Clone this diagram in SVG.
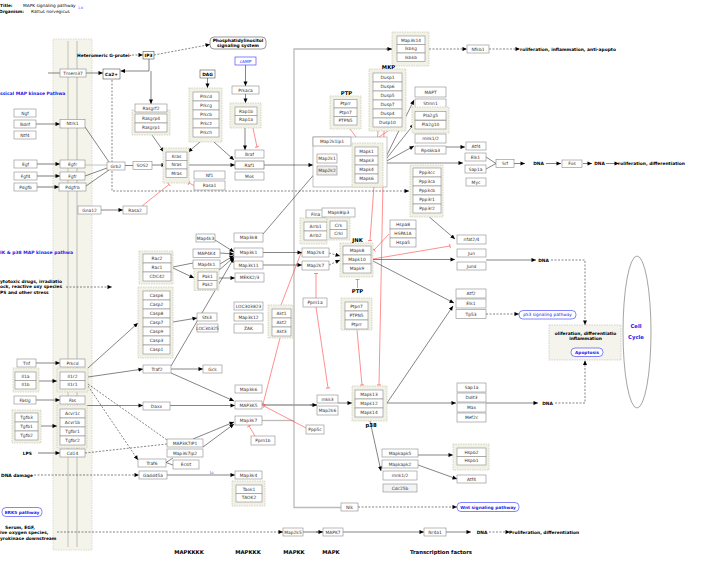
<svg xmlns="http://www.w3.org/2000/svg" width="714" height="563" viewBox="0 0 714 563">
<style>
text{font-family:"DejaVu Sans","Liberation Sans",sans-serif}
.n{fill:#fff;stroke:#8a8a8a;stroke-width:.6}
.g{fill:#f1f1e6;stroke:#c5c5b5;stroke-width:.7;stroke-dasharray:1.5 1}
.t{font-size:4.4px;fill:#333;text-anchor:middle}
.tb{font-size:4.4px;fill:#000;font-weight:bold;text-anchor:middle}
.lb{font-size:5.3px;fill:#000;font-weight:bold;text-anchor:middle}
.bl{fill:#fff;stroke:#33f;stroke-width:.6}
.blt{font-size:4.3px;fill:#22e;text-anchor:middle}
.e{fill:none;stroke:#333;stroke-width:.6}
.d{stroke-dasharray:2 1.5}
.r{fill:none;stroke:#f44;stroke-width:.6}
.gl{fill:none;stroke:#bbb;stroke-width:1.3}
.ga{fill:none;stroke:#999;stroke-width:1.3}
</style>
<defs>
<marker id="a" viewBox="0 0 10 10" refX="10" refY="5" markerWidth="5" markerHeight="4.5" orient="auto" markerUnits="userSpaceOnUse"><path d="M0,0.5L10,5L0,9.5z" fill="#000"/></marker>
<marker id="t" viewBox="0 0 4 10" refX="2" refY="5" markerWidth="1.6" markerHeight="9" orient="auto" markerUnits="userSpaceOnUse"><path d="M2,0V10" stroke="#f44" stroke-width="1.6"/></marker>
</defs>
<rect width="714" height="563" fill="#fff"/>

<g id="header" font-size="4.3">
<text x="0" y="7" font-weight="bold">Title:</text>
<text x="23" y="7">MAPK signaling pathway</text>
<text x="78" y="8.5" fill="#33f" font-size="3.2">1.0</text>
<text x="-1" y="13" font-weight="bold">Organism:</text>
<text x="31" y="13">Rattus norvegicus</text>
</g>

<g id="membrane">
<rect x="53" y="39" width="39" height="511" fill="#f4f4eb" stroke="#cfcfbf" stroke-width=".7" stroke-dasharray="1.5 1"/>
<line x1="68" y1="41" x2="68" y2="547" stroke="#d0d0c8" stroke-width="1.4"/>
<line x1="77" y1="41" x2="77" y2="547" stroke="#999" stroke-width=".6"/>
</g>

<g id="connectors">
<line class="e d" x1="132" y1="55" x2="143" y2="55" marker-end="url(#a)"/>
<line class="e d" x1="154" y1="55" x2="210" y2="44.5" marker-end="url(#a)"/>
<path class="e" d="M149,59V71H120.5" marker-end="url(#a)"/>
<path class="e" d="M151,71V104" marker-end="url(#a)"/>
<line class="e" x1="48" y1="73" x2="60" y2="73"/>
<line class="e" x1="86" y1="73" x2="103" y2="73" marker-end="url(#a)"/>
<path class="e d" d="M112,80V191H409" marker-end="url(#a)"/>
<line class="e" x1="207.5" y1="78" x2="207.5" y2="88" marker-end="url(#a)"/>
<line class="e" x1="152" y1="135" x2="164" y2="152" marker-end="url(#a)"/>
<line class="e" x1="200" y1="142" x2="188" y2="152" marker-end="url(#a)"/>
<line class="e" x1="214" y1="142" x2="234" y2="160" marker-end="url(#a)"/>
<line class="e" x1="245.5" y1="65" x2="245.5" y2="86" marker-end="url(#a)"/>
<line class="e" x1="245.5" y1="94" x2="245.5" y2="103" marker-end="url(#a)"/>
<line class="e" x1="245" y1="128" x2="245" y2="150" marker-end="url(#a)"/>
<line class="r" x1="253" y1="128" x2="257" y2="147" marker-end="url(#t)"/>
<line class="e" x1="189" y1="165" x2="235" y2="165" marker-end="url(#a)"/>
<line class="e" x1="36" y1="124" x2="60" y2="124" marker-end="url(#a)"/>
<line class="ga" x1="37" y1="164" x2="60" y2="164" marker-end="url(#a)"/>
<line class="ga" x1="37" y1="176" x2="60" y2="176" marker-end="url(#a)"/>
<line class="ga" x1="37" y1="187" x2="59" y2="187" marker-end="url(#a)"/>
<line class="e" x1="85" y1="127" x2="109" y2="162"/>
<line class="gl" x1="85" y1="165" x2="107" y2="165" style="stroke-width:.9"/>
<line class="e" x1="85" y1="176" x2="107" y2="168"/>
<line class="e" x1="86" y1="186" x2="109" y2="170"/>
<line class="e" x1="125" y1="165.5" x2="133" y2="165.5"/>
<line class="e" x1="152" y1="165" x2="166" y2="165" marker-end="url(#a)"/>
<line class="r" x1="194" y1="185.5" x2="189" y2="183" marker-end="url(#t)"/>
<line class="r" x1="142" y1="206" x2="169" y2="184.5" marker-end="url(#t)"/>
<line class="e" x1="101" y1="210" x2="123" y2="210" marker-end="url(#a)"/>
<path class="gl" d="M392,49H294V507.5H341"/>
<line class="e" x1="386" y1="49" x2="392" y2="49" marker-end="url(#a)"/>
<line class="gl" x1="262" y1="420.5" x2="294" y2="420.5"/>
<line class="e d" x1="429" y1="49" x2="467" y2="49" marker-end="url(#a)"/>
<line class="e d" x1="489" y1="49" x2="520" y2="49" marker-end="url(#a)"/>
<line class="e" x1="264" y1="165" x2="313" y2="165" marker-end="url(#a)"/>
<line class="e" x1="263" y1="234" x2="317" y2="171" marker-end="url(#a)"/>
<line class="e" x1="339" y1="165" x2="352" y2="165" marker-end="url(#a)"/>
<line class="r" x1="350" y1="129" x2="359" y2="141" marker-end="url(#t)"/>
<line class="r" x1="388" y1="131" x2="370" y2="143" marker-end="url(#t)"/>
<line class="r" x1="378" y1="131" x2="370" y2="240.5" marker-end="url(#t)"/>
<line class="r" x1="384" y1="131" x2="379" y2="385" marker-end="url(#t)"/>
<line class="e" x1="383" y1="163" x2="414" y2="100" marker-end="url(#a)"/>
<line class="e" x1="383" y1="163" x2="414" y2="124" marker-end="url(#a)"/>
<line class="e" x1="383" y1="163" x2="414" y2="146" marker-end="url(#a)"/>
<line class="e" x1="383" y1="163" x2="463" y2="163" marker-end="url(#a)"/>
<line class="e" x1="446" y1="147" x2="465" y2="147" marker-end="url(#a)"/>
<path class="e" d="M486,157L496,163.5L486,169"/>
<line class="e" x1="514" y1="163.5" x2="525" y2="163.5" marker-end="url(#a)"/>
<line class="e" x1="546" y1="163.5" x2="561" y2="163.5" marker-end="url(#a)"/>
<line class="e" x1="583" y1="163.5" x2="592" y2="163.5" marker-end="url(#a)"/>
<line class="e" x1="606" y1="163.5" x2="619" y2="163.5" marker-end="url(#a)"/>
<line class="e" x1="427" y1="215" x2="455" y2="239" marker-end="url(#a)"/>
<line class="r" x1="389" y1="234" x2="374" y2="250" marker-end="url(#t)"/>
<line class="r" x1="373" y1="259" x2="450" y2="246" marker-end="url(#t)"/>
<line class="e" x1="373" y1="259.5" x2="455" y2="259.5" marker-end="url(#a)"/>
<line class="e" x1="373" y1="261" x2="454" y2="303" marker-end="url(#a)"/>
<line class="e" x1="486" y1="260" x2="536" y2="260" marker-end="url(#a)"/>
<path class="e d" d="M551,260H585V325" marker-end="url(#a)"/>
<path class="e d" d="M555,403H585V360.5" marker-end="url(#a)"/>
<line class="e d" x1="486" y1="314" x2="519" y2="314" marker-end="url(#a)"/>
<line class="e" x1="387" y1="403" x2="453" y2="306" marker-end="url(#a)"/>
<line class="e" x1="387" y1="403" x2="456" y2="403" marker-end="url(#a)"/>
<line class="e" x1="486" y1="403" x2="538" y2="403" marker-end="url(#a)"/>
<line class="e" x1="338" y1="403" x2="352" y2="403" marker-end="url(#a)"/>
<line class="ga" x1="262" y1="405" x2="317" y2="405"/>
<line class="e" x1="310" y1="405" x2="317" y2="405" marker-end="url(#a)"/>
<path class="r" d="M316,298V273.5" marker-end="url(#t)"/>
<path class="r" d="M316,307L328,388" marker-end="url(#t)"/>
<line class="r" x1="357.5" y1="288" x2="357.5" y2="279.5" marker-end="url(#t)"/>
<line class="r" x1="357" y1="330" x2="362" y2="385" marker-end="url(#t)"/>
<line class="r" x1="281" y1="305" x2="301" y2="253" marker-end="url(#t)"/>
<line class="r" x1="280" y1="338" x2="263" y2="404" marker-end="url(#t)"/>
<line class="r" x1="306" y1="428" x2="264" y2="406" marker-end="url(#t)"/>
<line class="r" x1="255" y1="436" x2="249" y2="426" marker-end="url(#t)"/>
<line class="e" x1="263" y1="252.5" x2="302" y2="252.5" marker-end="url(#a)"/>
<line class="e" x1="263" y1="265" x2="302" y2="265" marker-end="url(#a)"/>
<line class="e d" x1="329" y1="253" x2="340" y2="256" marker-end="url(#a)"/>
<line class="e d" x1="329" y1="265" x2="340" y2="260" marker-end="url(#a)"/>
<line class="e" x1="215" y1="240" x2="234" y2="252" marker-end="url(#a)"/>
<line class="e" x1="220" y1="253" x2="234" y2="254" marker-end="url(#a)"/>
<line class="e" x1="220" y1="264" x2="234" y2="255.5" marker-end="url(#a)"/>
<line class="e" x1="217" y1="272" x2="234" y2="257" marker-end="url(#a)"/>
<line class="e" x1="219" y1="278" x2="235" y2="278" marker-end="url(#a)"/>
<line class="e" x1="171" y1="366" x2="234" y2="258" marker-end="url(#a)"/>
<line class="e" x1="173" y1="267" x2="193" y2="263"/>
<line class="e" x1="173" y1="268" x2="194" y2="278" marker-end="url(#a)"/>
<line class="e" x1="173" y1="322" x2="197" y2="318" marker-end="url(#a)"/>
<line class="e" x1="88" y1="368" x2="138" y2="323" marker-end="url(#a)"/>
<line class="e" x1="88" y1="377" x2="143" y2="369" marker-end="url(#a)"/>
<line class="e" x1="171" y1="369" x2="203" y2="369" marker-end="url(#a)"/>
<line class="e" x1="171" y1="373" x2="234" y2="401" marker-end="url(#a)"/>
<line class="e" x1="87" y1="405.5" x2="143" y2="405.5" marker-end="url(#a)"/>
<line class="e" x1="170" y1="405.5" x2="235" y2="405.5" marker-end="url(#a)"/>
<line class="e d" x1="88" y1="386" x2="138" y2="460" marker-end="url(#a)"/>
<line class="e d" x1="88" y1="384" x2="167" y2="440"/>
<line class="e d" x1="85" y1="453" x2="167" y2="444"/>
<path class="e" d="M173,458L166,462.5L173,465"/>
<line class="e" x1="193" y1="439" x2="234" y2="422" marker-end="url(#a)"/>
<line class="e" x1="203" y1="447" x2="234" y2="424" marker-end="url(#a)"/>
<line class="e" x1="167" y1="475" x2="235" y2="475" marker-end="url(#a)"/>
<line class="e d" x1="34" y1="475" x2="139" y2="475" marker-end="url(#a)"/>
<line class="e" x1="36" y1="363" x2="60" y2="363" marker-end="url(#a)"/>
<line class="e" x1="39" y1="381" x2="57" y2="381" marker-end="url(#a)"/>
<line class="e" x1="36" y1="400" x2="60" y2="400" marker-end="url(#a)"/>
<line class="e" x1="41" y1="426" x2="57" y2="426" marker-end="url(#a)"/>
<line class="ga" x1="38" y1="453" x2="60" y2="453" marker-end="url(#a)"/>
<line class="e d" x1="66" y1="287" x2="112" y2="287" marker-end="url(#a)"/>
<line class="e d" x1="57" y1="532" x2="283" y2="532" marker-end="url(#a)"/>
<line class="ga" x1="303" y1="532" x2="323" y2="532"/>
<line class="e" x1="316" y1="532" x2="323" y2="532" marker-end="url(#a)"/>
<line class="e" x1="343" y1="532" x2="424" y2="532" marker-end="url(#a)"/>
<line class="e" x1="446" y1="532" x2="471" y2="532" marker-end="url(#a)"/>
<line class="e d" x1="489" y1="532" x2="510" y2="532" marker-end="url(#a)"/>
<line class="e d" x1="358" y1="507" x2="457" y2="507" marker-end="url(#a)"/>
<line class="e" x1="418" y1="455" x2="453" y2="455" marker-end="url(#a)"/>
<line class="e" x1="418" y1="465" x2="457" y2="479" marker-end="url(#a)"/>
<line class="e" x1="370" y1="421" x2="381" y2="471" marker-end="url(#a)"/>
</g>

<g id="nodes">
<g id="n_Tmem37"><rect class="n" x="60" y="69" width="26" height="8"/><text class="t" x="73" y="74.5">Tmem37</text></g>
<g id="n_Ca"><rect class="n" x="103" y="69" width="17" height="10" style="stroke:#555"/><text class="tb" x="111.5" y="75.5">Ca2+</text></g>
<g id="n_IP3"><rect class="n" x="143" y="51.5" width="11" height="7.5" style="stroke:#555"/><text class="tb" x="148.5" y="56.8">IP3</text></g>
<g id="n_PI"><rect class="n" x="210" y="37" width="56" height="12" rx="4" style="stroke:#555"/><text class="tb" x="238" y="42.3">Phosphatidylinositol</text><text class="tb" x="238" y="47.3">signaling system</text></g>
<g id="n_cAMP"><rect class="bl" x="235" y="57" width="21" height="8"/><text class="blt" x="245.5" y="62.5">cAMP</text></g>
<g id="n_Prkaca"><rect class="n" x="232" y="86" width="27" height="8"/><text class="t" x="245.5" y="91.5">Prkaca</text></g>
<g id="grp_Rap"><rect class="g" x="230" y="103" width="31" height="25"/>
<g id="n_Rap1b"><rect class="n" x="235" y="107" width="22" height="8.5"/><text class="t" x="246" y="112.8">Rap1b</text></g>
<g id="n_Rap1a"><rect class="n" x="235" y="115.5" width="22" height="8.5"/><text class="t" x="246" y="121.3">Rap1a</text></g></g>
<g id="n_Braf"><rect class="n" x="235" y="150" width="29" height="8"/><text class="t" x="249.5" y="155.5">Braf</text></g>
<g id="n_Raf1"><rect class="n" x="235" y="161" width="29" height="8" style="stroke:#666"/><text class="t" x="249.5" y="166.5">Raf1</text></g>
<g id="n_Mos"><rect class="n" x="235" y="172" width="29" height="8"/><text class="t" x="249.5" y="177.5">Mos</text></g>
<g id="n_DAG"><rect class="n" x="200" y="70" width="15" height="8" style="stroke:#555"/><text class="tb" x="207.5" y="75.5">DAG</text></g>
<g id="grp_Prkc"><rect class="g" x="189" y="88" width="33" height="54"/>
<g id="n_Prkcd"><rect class="n" x="193" y="92" width="26" height="9"/><text class="t" x="206" y="98">Prkcd</text></g>
<g id="n_Prkcg"><rect class="n" x="193" y="101" width="26" height="9"/><text class="t" x="206" y="107">Prkcg</text></g>
<g id="n_Prkcb"><rect class="n" x="193" y="110" width="26" height="9"/><text class="t" x="206" y="116">Prkcb</text></g>
<g id="n_Prkcz"><rect class="n" x="193" y="119" width="26" height="9"/><text class="t" x="206" y="125">Prkcz</text></g>
<g id="n_Prkch"><rect class="n" x="193" y="128" width="26" height="9"/><text class="t" x="206" y="134">Prkch</text></g></g>
<g id="grp_Rasgrp"><rect class="g" x="132" y="110" width="38" height="25"/>
<g id="n_Rasgrp4"><rect class="n" x="135" y="114" width="32" height="9"/><text class="t" x="151" y="120">Rasgrp4</text></g>
<g id="n_Rasgrp1"><rect class="n" x="135" y="123" width="32" height="9"/><text class="t" x="151" y="129">Rasgrp1</text></g></g>
<g id="n_Rasgrf2"><rect class="n" x="135" y="104" width="32" height="8"/><text class="t" x="151" y="109.5">Rasgrf2</text></g>
<g id="n_Ngf"><rect class="n" x="14" y="109" width="22" height="8"/><text class="t" x="25" y="114.5">Ngf</text></g>
<g id="n_Bdnf"><rect class="n" x="14" y="120" width="22" height="8"/><text class="t" x="25" y="125.5">Bdnf</text></g>
<g id="n_Ntf4"><rect class="n" x="14" y="131" width="22" height="8"/><text class="t" x="25" y="136.5">Ntf4</text></g>
<g id="n_Ntrk1"><rect class="n" x="60" y="119.5" width="25" height="8.5"/><text class="t" x="72.5" y="125.3">Ntrk1</text></g>
<g id="n_Egf"><rect class="n" x="14" y="160" width="23" height="8"/><text class="t" x="25.5" y="165.5">Egf</text></g>
<g id="n_Fgf4"><rect class="n" x="14" y="172" width="23" height="8"/><text class="t" x="25.5" y="177.5">Fgf4</text></g>
<g id="n_Pdgfb"><rect class="n" x="14" y="183" width="23" height="8"/><text class="t" x="25.5" y="188.5">Pdgfb</text></g>
<g id="n_Egfr"><rect class="n" x="60" y="160" width="25" height="8"/><text class="t" x="72.5" y="165.5">Egfr</text></g>
<g id="n_Fgfr"><rect class="n" x="60" y="172" width="25" height="8"/><text class="t" x="72.5" y="177.5">Fgfr</text></g>
<g id="n_Pdgfrb"><rect class="n" x="59" y="183" width="27" height="8"/><text class="t" x="72.5" y="188.5">Pdgfrb</text></g>
<g id="n_Grb2"><rect class="n" x="107" y="162" width="18" height="8"/><text class="t" x="116" y="167.5">Grb2</text></g>
<g id="n_SOS2"><rect class="n" x="133" y="161.5" width="19" height="8"/><text class="t" x="142.5" y="167">SOS2</text></g>
<g id="grp_Ras"><rect class="g" x="163" y="148" width="26" height="35"/>
<g id="n_Kras"><rect class="n" x="166" y="152" width="21" height="8.5"/><text class="t" x="176.5" y="157.8">Kras</text></g>
<g id="n_Nras"><rect class="n" x="166" y="160.5" width="21" height="8.5"/><text class="t" x="176.5" y="166.3">Nras</text></g>
<g id="n_Mras"><rect class="n" x="166" y="169" width="21" height="8.5"/><text class="t" x="176.5" y="174.8">Mras</text></g></g>
<g id="n_Nf1"><rect class="n" x="194" y="171" width="31" height="8"/><text class="t" x="209.5" y="176.5">Nf1</text></g>
<g id="n_Rasa1"><rect class="n" x="194" y="181" width="31" height="9"/><text class="t" x="209.5" y="187">Rasa1</text></g>
<g id="n_Gna12"><rect class="n" x="78" y="206" width="23" height="8"/><text class="t" x="89.5" y="211.5">Gna12</text></g>
<g id="n_Rasa2"><rect class="n" x="123" y="206" width="24" height="8"/><text class="t" x="135" y="211.5">Rasa2</text></g>

<g id="grp_Map3k14"><rect class="g" x="392" y="32" width="37" height="34"/>
<g id="n_Map3k14"><rect class="n" x="397" y="36" width="28" height="8.5"/><text class="t" x="411" y="41.8">Map3k14</text></g>
<g id="n_Ikbkg"><rect class="n" x="397" y="44.5" width="28" height="8.5"/><text class="t" x="411" y="50.3">Ikbkg</text></g>
<g id="n_Ikbkb"><rect class="n" x="397" y="53" width="28" height="8.5"/><text class="t" x="411" y="58.8">Ikbkb</text></g></g>
<g id="n_Nfkb1"><rect class="n" x="467" y="45" width="22" height="8"/><text class="t" x="478" y="50.5">Nfkb1</text></g>
<g id="grp_Dusp"><rect class="g" x="369" y="69" width="37" height="62"/>
<g id="n_Dusp1"><rect class="n" x="373" y="73" width="29" height="9"/><text class="t" x="387.5" y="79">Dusp1</text></g>
<g id="n_Dusp6"><rect class="n" x="373" y="82" width="29" height="9"/><text class="t" x="387.5" y="88">Dusp6</text></g>
<g id="n_Dusp5"><rect class="n" x="373" y="91" width="29" height="9"/><text class="t" x="387.5" y="97">Dusp5</text></g>
<g id="n_Dusp7"><rect class="n" x="373" y="100" width="29" height="9"/><text class="t" x="387.5" y="106">Dusp7</text></g>
<g id="n_Dusp4"><rect class="n" x="373" y="109" width="29" height="9"/><text class="t" x="387.5" y="115">Dusp4</text></g>
<g id="n_Dusp10"><rect class="n" x="373" y="118" width="29" height="9"/><text class="t" x="387.5" y="124">Dusp10</text></g></g>
<g id="grp_PTP1"><rect class="g" x="330" y="96" width="31" height="33"/>
<g id="n_Ptprr1"><rect class="n" x="334" y="99.5" width="23" height="8.5"/><text class="t" x="345.5" y="105.3">Ptprr</text></g>
<g id="n_Ptpn7_1"><rect class="n" x="334" y="108" width="23" height="8.5"/><text class="t" x="345.5" y="113.8">Ptpn7</text></g>
<g id="n_PTPN5_1"><rect class="n" x="334" y="116.5" width="23" height="8.5"/><text class="t" x="345.5" y="122.3">PTPN5</text></g></g>
<g id="grp_Map2k"><rect x="313" y="137" width="74" height="50" fill="#fff" stroke="#999" stroke-width=".6"/>
<g id="n_Map2k1ip1"><rect class="n" x="313" y="137" width="38" height="9"/><text class="t" x="332" y="143">Map2k1ip1</text></g>
<g id="n_Map2k1"><rect class="n" x="317" y="154" width="20" height="9"/><text class="t" x="327" y="160">Map2k1</text></g>
<g id="n_Map2k2"><rect class="n" x="317" y="166" width="20" height="9" style="fill:#eee"/><text class="t" x="327" y="172">Map2k2</text></g></g>
<g id="grp_ERK"><rect class="g" x="352" y="143" width="31" height="44"/>
<g id="n_Mapk1"><rect class="n" x="355" y="147" width="23" height="9"/><text class="t" x="366.5" y="153">Mapk1</text></g>
<g id="n_Mapk3"><rect class="n" x="355" y="156" width="23" height="9"/><text class="t" x="366.5" y="162">Mapk3</text></g>
<g id="n_Mapk4"><rect class="n" x="355" y="165" width="23" height="9"/><text class="t" x="366.5" y="171">Mapk4</text></g>
<g id="n_Mapk6"><rect class="n" x="355" y="174" width="23" height="9"/><text class="t" x="366.5" y="180">Mapk6</text></g></g>
<g id="n_MAPT"><rect class="n" x="415" y="87" width="31" height="10"/><text class="t" x="430.5" y="93.5">MAPT</text></g>
<g id="n_Stmn1"><rect class="n" x="415" y="99" width="31" height="9"/><text class="t" x="430.5" y="105">Stmn1</text></g>
<g id="grp_Pla2g"><rect class="g" x="412" y="107" width="37" height="26"/>
<g id="n_Pla2g5"><rect class="n" x="415" y="111.5" width="31" height="8.5"/><text class="t" x="430.5" y="117.3">Pla2g5</text></g>
<g id="n_Pla2g10"><rect class="n" x="415" y="120.5" width="31" height="8.5"/><text class="t" x="430.5" y="126.3">Pla2g10</text></g></g>
<g id="n_mnk1"><rect class="n" x="415" y="134" width="31" height="9"/><text class="t" x="430.5" y="140">mnk1/2</text></g>
<g id="n_Rps6ka3"><rect class="n" x="415" y="146" width="31" height="8"/><text class="t" x="430.5" y="151.5">Rps6ka3</text></g>
<g id="n_Atf4_1"><rect class="n" x="466" y="142" width="20" height="8"/><text class="t" x="476" y="147.5">Atf4</text></g>
<g id="n_Elk1_1"><rect class="n" x="465" y="153" width="21" height="8"/><text class="t" x="475.5" y="158.5">Elk1</text></g>
<g id="n_Sap1a_1"><rect class="n" x="465" y="165" width="21" height="8"/><text class="t" x="475.5" y="170.5">Sap1a</text></g>
<g id="n_Myc"><rect class="n" x="466" y="178" width="20" height="8"/><text class="t" x="476" y="183.5">Myc</text></g>
<g id="n_Srf"><rect class="n" x="496" y="159.5" width="18" height="8"/><text class="t" x="505" y="165">Srf</text></g>
<g id="n_Fos"><rect class="n" x="562" y="160" width="20" height="7.5"/><text class="t" x="572" y="165.3">Fos</text></g>
<g id="grp_Ppp3"><rect class="g" x="410" y="165" width="33" height="52"/>
<g id="n_Ppp3cc"><rect class="n" x="413" y="168" width="28" height="9"/><text class="t" x="427" y="174">Ppp3cc</text></g>
<g id="n_Ppp3ca"><rect class="n" x="413" y="177" width="28" height="9"/><text class="t" x="427" y="183">Ppp3ca</text></g>
<g id="n_Ppp3cb"><rect class="n" x="413" y="186" width="28" height="9"/><text class="t" x="427" y="192">Ppp3cb</text></g>
<g id="n_Ppp3r1"><rect class="n" x="413" y="195" width="28" height="9"/><text class="t" x="427" y="201">Ppp3r1</text></g>
<g id="n_Ppp3r2"><rect class="n" x="413" y="204" width="28" height="9"/><text class="t" x="427" y="210">Ppp3r2</text></g></g>
<g id="n_nfat"><rect class="n" x="457" y="235" width="29" height="9"/><text class="t" x="471.5" y="241">nfat2/4</text></g>
<g id="n_Jun"><rect class="n" x="457" y="249" width="29" height="8"/><text class="t" x="471.5" y="254.5">Jun</text></g>
<g id="n_Jund"><rect class="n" x="457" y="262" width="29" height="8"/><text class="t" x="471.5" y="267.5">Jund</text></g>
<g id="n_Hspa8"><rect class="n" x="390" y="220" width="26" height="9"/><text class="t" x="403" y="226">Hspa8</text></g>
<g id="n_HSPA1A"><rect class="n" x="390" y="229" width="26" height="9"/><text class="t" x="403" y="235">HSPA1A</text></g>
<g id="n_Hspa5"><rect class="n" x="390" y="238" width="26" height="9"/><text class="t" x="403" y="244">Hspa5</text></g>
<g id="grp_JNK"><rect class="g" x="340" y="243" width="33" height="34"/>
<g id="n_Mapk8"><rect class="n" x="343" y="246" width="28" height="9"/><text class="t" x="357" y="252">Mapk8</text></g>
<g id="n_Mapk10"><rect class="n" x="343" y="255" width="28" height="9"/><text class="t" x="357" y="261">Mapk10</text></g>
<g id="n_Mapk9"><rect class="n" x="343" y="264" width="28" height="9"/><text class="t" x="357" y="270">Mapk9</text></g></g>
<g id="n_Flna"><rect class="n" x="306" y="210" width="19" height="8"/><text class="t" x="315.5" y="215.5">Flna</text></g>
<g id="n_Mapk8ip3"><rect class="n" x="322" y="208" width="33" height="9"/><text class="t" x="338.5" y="214">Mapk8ip3</text></g>
<g id="grp_Arrb"><rect class="g" x="300" y="218" width="27" height="26"/>
<g id="n_Arrb1"><rect class="n" x="304" y="222" width="23" height="9"/><text class="t" x="315.5" y="228">Arrb1</text></g>
<g id="n_Arrb2"><rect class="n" x="304" y="231" width="23" height="9"/><text class="t" x="315.5" y="237">Arrb2</text></g></g>
<g id="grp_Crk"><rect class="g" x="327" y="218" width="23" height="22"/>
<g id="n_Crk"><rect class="n" x="330" y="221" width="17" height="8.5"/><text class="t" x="338.5" y="226.8">Crk</text></g>
<g id="n_Crkl"><rect class="n" x="330" y="229.5" width="17" height="8.5"/><text class="t" x="338.5" y="235.3">Crkl</text></g></g>
<g id="n_Map2k4"><rect class="n" x="302" y="248" width="27" height="9"/><text class="t" x="315.5" y="254">Map2k4</text></g>
<g id="n_Map2k7"><rect class="n" x="302" y="261" width="27" height="9"/><text class="t" x="315.5" y="267">Map2k7</text></g>
<g id="n_Ppm1a"><rect class="n" x="303" y="298" width="24" height="9"/><text class="t" x="315" y="304">Ppm1a</text></g>
<g id="grp_PTP2"><rect class="g" x="341" y="298" width="31" height="32"/>
<g id="n_Ptpn7_2"><rect class="n" x="345" y="302" width="23" height="9"/><text class="t" x="356.5" y="308">Ptpn7</text></g>
<g id="n_PTPN5_2"><rect class="n" x="345" y="311" width="23" height="9"/><text class="t" x="356.5" y="317">PTPN5</text></g>
<g id="n_Ptprr2"><rect class="n" x="345" y="320" width="23" height="9"/><text class="t" x="356.5" y="326">Ptprr</text></g></g>
<g id="n_Map3k8"><rect class="n" x="234" y="233" width="29" height="9"/><text class="t" x="248.5" y="239">Map3k8</text></g>
<g id="n_Map3k1"><rect class="n" x="234" y="248" width="29" height="9"/><text class="t" x="248.5" y="254">Map3k1</text></g>
<g id="n_Map3k11"><rect class="n" x="234" y="261" width="29" height="8"/><text class="t" x="248.5" y="266.5">Map3k11</text></g>
<g id="n_MEKK23"><rect class="n" x="235" y="273" width="29" height="9"/><text class="t" x="249.5" y="279">MEKK2/3</text></g>
<g id="n_LOC303823"><rect class="n" x="234" y="302" width="29" height="8"/><text class="t" x="248.5" y="307.5">LOC303823</text></g>
<g id="n_Map3k12"><rect class="n" x="234" y="313" width="29" height="8"/><text class="t" x="248.5" y="318.5">Map3k12</text></g>
<g id="n_ZAK"><rect class="n" x="234" y="324" width="29" height="9"/><text class="t" x="248.5" y="330">ZAK</text></g>
<g id="grp_Akt"><rect class="g" x="268" y="305" width="25" height="33"/>
<g id="n_Akt1"><rect class="n" x="272" y="309" width="19" height="9"/><text class="t" x="281.5" y="315">Akt1</text></g>
<g id="n_Akt2"><rect class="n" x="272" y="318" width="19" height="9"/><text class="t" x="281.5" y="324">Akt2</text></g>
<g id="n_Akt3"><rect class="n" x="272" y="327" width="19" height="9"/><text class="t" x="281.5" y="333">Akt3</text></g></g>
<g id="n_Map4k3"><rect class="n" x="196" y="234" width="19" height="8"/><text class="t" x="205.5" y="239.5">Map4k3</text></g>
<g id="n_MAP4K4"><rect class="n" x="193" y="249" width="27" height="8.5"/><text class="t" x="206.5" y="254.8">MAP4K4</text></g>
<g id="n_Map4k1"><rect class="n" x="193" y="260" width="27" height="8.5"/><text class="t" x="206.5" y="265.8">Map4k1</text></g>
<g id="grp_Pak"><rect class="g" x="194" y="268.5" width="25" height="22"/>
<g id="n_Pak1"><rect class="n" x="198" y="272" width="19" height="8.5"/><text class="t" x="207.5" y="277.8">Pak1</text></g>
<g id="n_Pak2"><rect class="n" x="198" y="280.5" width="19" height="8.5"/><text class="t" x="207.5" y="286.3">Pak2</text></g></g>
<g id="grp_Rac"><rect class="g" x="139" y="251" width="34" height="33"/>
<g id="n_Rac2"><rect class="n" x="143" y="254" width="28" height="9"/><text class="t" x="157" y="260">Rac2</text></g>
<g id="n_Rac1"><rect class="n" x="143" y="263" width="28" height="9"/><text class="t" x="157" y="269">Rac1</text></g>
<g id="n_CDC42"><rect class="n" x="143" y="272" width="28" height="9"/><text class="t" x="157" y="278">CDC42</text></g></g>
<g id="grp_Casp"><rect class="g" x="138" y="287" width="35" height="71"/>
<g id="n_Casp6"><rect class="n" x="143" y="291" width="27" height="9"/><text class="t" x="156.5" y="297">Casp6</text></g>
<g id="n_Casp2"><rect class="n" x="143" y="300" width="27" height="9"/><text class="t" x="156.5" y="306">Casp2</text></g>
<g id="n_Casp8"><rect class="n" x="143" y="309" width="27" height="9"/><text class="t" x="156.5" y="315">Casp8</text></g>
<g id="n_Casp7"><rect class="n" x="143" y="318" width="27" height="9"/><text class="t" x="156.5" y="324">Casp7</text></g>
<g id="n_Casp9"><rect class="n" x="143" y="327" width="27" height="9"/><text class="t" x="156.5" y="333">Casp9</text></g>
<g id="n_Casp3"><rect class="n" x="143" y="336" width="27" height="9"/><text class="t" x="156.5" y="342">Casp3</text></g>
<g id="n_Casp1"><rect class="n" x="143" y="345" width="27" height="9"/><text class="t" x="156.5" y="351">Casp1</text></g></g>
<g id="n_Stk3"><rect class="n" x="197" y="313" width="20" height="8"/><text class="t" x="207" y="318.5">Stk3</text></g>
<g id="n_LOC303825"><rect class="n" x="197" y="324" width="21" height="8"/><text class="t" x="207.5" y="329.5">LOC30325</text></g>
<g id="n_Traf2"><rect class="n" x="143" y="365" width="28" height="8"/><text class="t" x="157" y="370.5">Traf2</text></g>
<g id="n_Gck"><rect class="n" x="203" y="365" width="19" height="8"/><text class="t" x="212.5" y="370.5">Gck</text></g>
<g id="n_Atf2"><rect class="n" x="456" y="289" width="30" height="9"/><text class="t" x="471" y="295">Atf2</text></g>
<g id="n_Elk1_2"><rect class="n" x="456" y="299" width="30" height="9"/><text class="t" x="471" y="305">Elk1</text></g>
<g id="n_Tp53"><rect class="n" x="456" y="309.5" width="30" height="9"/><text class="t" x="471" y="315.5">Tp53</text></g>
<g id="n_p53"><rect class="bl" x="519" y="310.5" width="57" height="8.5" rx="4"/><text class="blt" x="547.5" y="316.3">p53 signaling pathway</text></g>
<g id="n_outcome"><rect x="549" y="325" width="72" height="35" fill="#f4f4ec" stroke="#bbb" stroke-width=".6" stroke-dasharray="1.5 1"/>
<text class="tb" x="585.5" y="334.5">oliferation, differentiatio</text>
<text class="tb" x="585.5" y="339.5">inflammation</text></g>
<g id="n_Apoptosis"><rect class="bl" x="571" y="348" width="32" height="8.5" rx="4"/><text class="blt" x="587" y="353.8" font-weight="bold">Apoptosis</text></g>
<g id="n_CellCycle"><ellipse cx="637" cy="332" rx="14" ry="76" fill="none" stroke="#666" stroke-width=".6"/>
<text x="636" y="328" font-size="5.3" font-weight="bold" fill="#22e" text-anchor="middle">Cell</text>
<text x="636" y="339" font-size="5.3" font-weight="bold" fill="#22e" text-anchor="middle">Cycle</text></g>
<g id="n_Map3k6"><rect class="n" x="235" y="385" width="27" height="8"/><text class="t" x="248.5" y="390.5">Map3k6</text></g>
<g id="n_MAP3K5"><rect class="n" x="235" y="401" width="27" height="8"/><text class="t" x="248.5" y="406.5">MAP3K5</text></g>
<g id="n_Map3k7"><rect class="n" x="235" y="416" width="27" height="9"/><text class="t" x="248.5" y="422">Map3k7</text></g>
<g id="n_Ppm1b"><rect class="n" x="251" y="436" width="24" height="9"/><text class="t" x="263" y="442">Ppm1b</text></g>
<g id="n_Ppp5c"><rect class="n" x="306" y="425" width="18" height="9"/><text class="t" x="315" y="431">Ppp5c</text></g>
<g id="n_mkk3"><rect class="n" x="317" y="395" width="21" height="8"/><text class="t" x="327.5" y="400.5">mkk3</text></g>
<g id="n_Map2k6"><rect class="n" x="317" y="406" width="21" height="9"/><text class="t" x="327.5" y="412">Map2k6</text></g>
<g id="grp_p38"><rect class="g" x="352" y="386" width="35" height="35"/>
<g id="n_Mapk13"><rect class="n" x="355" y="390" width="28" height="9"/><text class="t" x="369" y="396">Mapk13</text></g>
<g id="n_Mapk12"><rect class="n" x="355" y="399" width="28" height="9"/><text class="t" x="369" y="405">Mapk12</text></g>
<g id="n_Mapk14"><rect class="n" x="355" y="408" width="28" height="9"/><text class="t" x="369" y="414">Mapk14</text></g></g>
<g id="n_Sap1a_2"><rect class="n" x="457" y="383" width="29" height="9"/><text class="t" x="471.5" y="389">Sap1a</text></g>
<g id="n_Ddit3"><rect class="n" x="457" y="393" width="29" height="9"/><text class="t" x="471.5" y="399">Ddit3</text></g>
<g id="n_Max"><rect class="n" x="457" y="403" width="29" height="9"/><text class="t" x="471.5" y="409">Max</text></g>
<g id="n_Mef2c"><rect class="n" x="457" y="413" width="29" height="9"/><text class="t" x="471.5" y="419">Mef2c</text></g>
<g id="n_Mapkapk5"><rect class="n" x="382" y="449" width="36" height="8"/><text class="t" x="400" y="454.5">Mapkapk5</text></g>
<g id="n_Mapkapk2"><rect class="n" x="382" y="460" width="36" height="8"/><text class="t" x="400" y="465.5">Mapkapk2</text></g>
<g id="n_mnk2"><rect class="n" x="383" y="471" width="34" height="9"/><text class="t" x="400" y="477">mnk1/2</text></g>
<g id="n_Cdc25b"><rect class="n" x="383" y="484" width="34" height="8" style="fill:#f4f4f4"/><text class="t" x="400" y="489.5">Cdc25b</text></g>
<g id="grp_Hspb"><rect class="g" x="453" y="444" width="36" height="26"/>
<g id="n_Hspb2"><rect class="n" x="457" y="448" width="29" height="8.5"/><text class="t" x="471.5" y="453.8">Hspb2</text></g>
<g id="n_Hspb1"><rect class="n" x="457" y="456.5" width="29" height="8.5"/><text class="t" x="471.5" y="462.3">Hspb1</text></g></g>
<g id="n_Atf4_2"><rect class="n" x="457" y="475" width="29" height="8"/><text class="t" x="471.5" y="480.5">Atf4</text></g>
<g id="n_Map3k4"><rect class="n" x="235" y="471" width="27" height="8"/><text class="t" x="248.5" y="476.5">Map3k4</text></g>
<g id="grp_Taok"><rect class="g" x="232" y="481" width="33" height="25"/>
<g id="n_Taok1"><rect class="n" x="236" y="485" width="26" height="8.5"/><text class="t" x="249" y="490.8">Taok1</text></g>
<g id="n_TAOK2"><rect class="n" x="236" y="493.5" width="26" height="8.5"/><text class="t" x="249" y="499.3">TAOK2</text></g></g>
<g id="n_Nlk"><rect class="n" x="341" y="503" width="17" height="8"/><text class="t" x="349.5" y="508.5">Nlk</text></g>
<g id="n_Wnt"><rect class="bl" x="457" y="502.5" width="62" height="9" rx="4"/><text class="blt" x="488" y="508.5" font-weight="bold">Wnt signaling pathway</text></g>
<g id="n_Daxx"><rect class="n" x="143" y="402" width="27" height="8"/><text class="t" x="156.5" y="407.5">Daxx</text></g>
<g id="n_MAP3K7IP1"><rect class="n" x="167" y="439" width="36" height="8"/><text class="t" x="185" y="444.5">MAP3K7IP1</text></g>
<g id="n_Map3k7ip2"><rect class="n" x="167" y="449" width="36" height="8"/><text class="t" x="185" y="454.5">Map3k7ip2</text></g>
<g id="n_Ecsit"><rect class="n" x="173" y="460" width="26" height="9"/><text class="t" x="186" y="466">Ecsit</text></g>
<g id="n_Traf6"><rect class="n" x="138" y="459" width="28" height="8"/><text class="t" x="152" y="464.5">Traf6</text></g>
<g id="n_Gadd45a"><rect class="n" x="139" y="471" width="28" height="8"/><text class="t" x="153" y="476.5">Gadd45a</text></g>
<g id="n_Tnf"><rect class="n" x="17" y="359" width="19" height="8"/><text class="t" x="26.5" y="364.5">Tnf</text></g>
<g id="n_Prkcd2"><rect class="n" x="60" y="359" width="25" height="8"/><text class="t" x="72.5" y="364.5">Prkcd</text></g>
<g id="grp_Il1"><rect class="g" x="13" y="368" width="26" height="24"/>
<g id="n_Il1a"><rect class="n" x="15" y="372" width="21" height="8.5"/><text class="t" x="25.5" y="377.8">Il1a</text></g>
<g id="n_Il1b"><rect class="n" x="15" y="380.5" width="21" height="8.5"/><text class="t" x="25.5" y="386.3">Il1b</text></g></g>
<g id="grp_Il1r"><rect class="g" x="57" y="368" width="31" height="24"/>
<g id="n_Il1r2"><rect class="n" x="60" y="372" width="25" height="8.5"/><text class="t" x="72.5" y="377.8">Il1r2</text></g>
<g id="n_Il1r1"><rect class="n" x="60" y="380.5" width="25" height="8.5"/><text class="t" x="72.5" y="386.3">Il1r1</text></g></g>
<g id="n_Faslg"><rect class="n" x="14" y="396" width="22" height="8"/><text class="t" x="25" y="401.5">Faslg</text></g>
<g id="n_Fas"><rect class="n" x="60" y="396" width="25" height="8"/><text class="t" x="72.5" y="401.5">Fas</text></g>
<g id="grp_Tgfb"><rect class="g" x="12" y="410" width="29" height="33"/>
<g id="n_Tgfb3"><rect class="n" x="15" y="413" width="23" height="9"/><text class="t" x="26.5" y="419">Tgfb3</text></g>
<g id="n_Tgfb1"><rect class="n" x="15" y="422" width="23" height="9"/><text class="t" x="26.5" y="428">Tgfb1</text></g>
<g id="n_Tgfb2"><rect class="n" x="15" y="431" width="23" height="9"/><text class="t" x="26.5" y="437">Tgfb2</text></g></g>
<g id="grp_Acvr"><rect class="g" x="57" y="405" width="30" height="43"/>
<g id="n_Acvr1c"><rect class="n" x="60" y="409" width="25" height="9"/><text class="t" x="72.5" y="415">Acvr1c</text></g>
<g id="n_Acvr1b"><rect class="n" x="60" y="418" width="25" height="9"/><text class="t" x="72.5" y="424">Acvr1b</text></g>
<g id="n_Tgfbr1"><rect class="n" x="60" y="427" width="25" height="9"/><text class="t" x="72.5" y="433">Tgfbr1</text></g>
<g id="n_Tgfbr2"><rect class="n" x="60" y="436" width="25" height="9"/><text class="t" x="72.5" y="442">Tgfbr2</text></g></g>
<g id="n_Cd14"><rect class="n" x="60" y="449" width="25" height="8"/><text class="t" x="72.5" y="454.5">Cd14</text></g>
<g id="n_ERK5"><rect class="bl" x="2" y="507.5" width="40" height="9" rx="4"/><text class="blt" x="22" y="513.5" font-weight="bold">ERK5 pathway</text></g>
<g id="n_Map2k5"><rect class="n" x="283" y="528" width="20" height="8"/><text class="t" x="293" y="533.5">Map2k5</text></g>
<g id="n_MAPK7"><rect class="n" x="323" y="528" width="20" height="8"/><text class="t" x="333" y="533.5">MAPK7</text></g>
<g id="n_Nr4a1"><rect class="n" x="424" y="528" width="22" height="8"/><text class="t" x="435" y="533.5">Nr4a1</text></g>
</g>

<g id="labels">
<text x="77" y="57" font-size="4.4" font-weight="bold">Heteromeric G-protei-</text>
<text x="0" y="94.5" font-size="4.5" font-weight="bold" fill="#22e">ssical MAP kinase Pathwa</text>
<text x="0" y="253.5" font-size="4.5" font-weight="bold" fill="#22e">IK &amp; p38 MAP kinase pathwa</text>
<text x="0" y="282.5" font-size="4.4" font-weight="bold">ytotoxic drugs, irradiatio</text>
<text x="0" y="288" font-size="4.4" font-weight="bold">ock, reactive oxy species</text>
<text x="0" y="293.5" font-size="4.4" font-weight="bold">PS and other stress</text>
<text x="33" y="476.5" font-size="4.4" font-weight="bold" text-anchor="end">DNA damage</text>
<text x="32" y="454.5" font-size="4.4" font-weight="bold" text-anchor="end">LPS</text>
<text x="20" y="528.5" font-size="4.4" font-weight="bold" text-anchor="middle">Serum, EGF,</text>
<text x="0" y="534" font-size="4.4" font-weight="bold">ive oxygen species,</text>
<text x="0" y="539.5" font-size="4.4" font-weight="bold">yrokinase downstream</text>
<text x="520" y="50.5" font-size="4.4" font-weight="bold">roliferation, inflammation, anti-apopto</text>
<text x="618" y="164.5" font-size="4.4" font-weight="bold">roliferation, differentiation</text>
<text x="509" y="533.5" font-size="4.4" font-weight="bold">Proliferation, differentiation</text>
<text class="tb" x="538.5" y="164.5">DNA</text>
<text class="tb" x="599.5" y="164.5">DNA</text>
<text class="tb" x="543.5" y="261.5">DNA</text>
<text class="tb" x="547.5" y="404.5">DNA</text>
<text class="tb" x="482" y="533.5">DNA</text>
<text class="lb" x="388.5" y="68.5">MKP</text>
<text class="lb" x="346.5" y="95">PTP</text>
<text class="lb" x="357.5" y="242">JNK</text>
<text class="lb" x="357.5" y="293">PTP</text>
<text class="lb" x="371" y="427">p38</text>
<text class="lb" x="189" y="554">MAPKKKK</text>
<text class="lb" x="248" y="554">MAPKKK</text>
<text class="lb" x="294" y="554">MAPKK</text>
<text class="lb" x="331" y="554">MAPK</text>
<text class="lb" x="441" y="554">Transcription factors</text>
<text x="211.5" y="474" font-size="3.3" fill="#33f" text-anchor="middle">10</text>
</g>
</svg>
